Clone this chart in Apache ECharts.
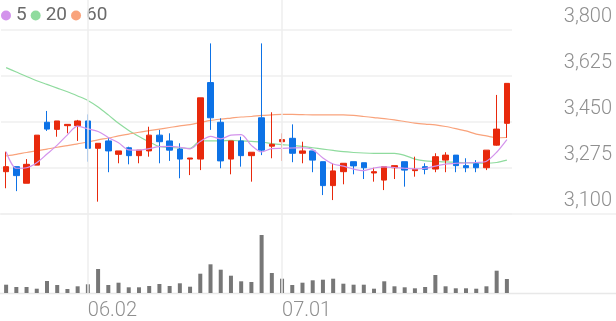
<!DOCTYPE html>
<html>
<head>
<meta charset="utf-8">
<script src="https://cdn.jsdelivr.net/npm/echarts@6/dist/echarts.min.js"></script>
<style>html,body{margin:0;padding:0;background:#fff}#c{width:616px;height:321px}</style>
</head>
<body>
<div id="c"></div>
<script>
const dates = ['05.21','05.22','05.23','05.26','05.27','05.28','05.29','05.30','06.02','06.04','06.05','06.09','06.10','06.11','06.12','06.13','06.16','06.17','06.18','06.19','06.20','06.23','06.24','06.25','06.26','06.27','06.30','07.01','07.02','07.03','07.04','07.07','07.08','07.09','07.10','07.11','07.14','07.15','07.16','07.17','07.18','07.21','07.22','07.23','07.24','07.25','07.28','07.29','07.30','07.31'];
const tickDates = ['06.02','07.01'];
const yTicks = [3100,3275,3450,3625,3800];
const openP = [3261,3280,3217,3286,3449,3422,3436,3436,3454,3350,3378,3327,3352,3322,3340,3400,3378,3347,3309,3309,3600,3449,3309,3378,3322,3466,3358,3375,3388,3331,3340,3299,3208,3261,3299,3295,3256,3229,3276,3299,3265,3280,3271,3305,3324,3284,3291,3276,3362,3445];
const closeP = [3280,3246,3289,3400,3423,3454,3441,3454,3350,3369,3340,3340,3322,3343,3400,3375,3343,3309,3313,3542,3466,3302,3378,3322,3335,3343,3365,3383,3331,3340,3305,3208,3264,3293,3283,3276,3261,3280,3284,3267,3270,3270,3318,3324,3284,3276,3276,3343,3423,3597];
const lowP = [3198,3187,3217,3286,3416,3394,3407,3378,3299,3147,3259,3293,3289,3293,3318,3293,3302,3236,3248,3267,3420,3274,3251,3280,3223,3324,3312,3302,3297,3293,3259,3172,3153,3213,3251,3233,3223,3191,3233,3204,3242,3251,3259,3259,3259,3259,3259,3267,3360,3390];
const highP = [3337,3280,3309,3400,3492,3454,3441,3458,3479,3369,3388,3340,3356,3343,3432,3420,3407,3369,3313,3542,3749,3464,3378,3394,3335,3749,3487,3407,3441,3375,3340,3299,3293,3293,3299,3295,3276,3280,3284,3299,3318,3293,3331,3335,3324,3312,3305,3343,3553,3597];
const volume = [83,60,60,43,120,80,40,67,87,240,80,103,57,57,70,90,70,97,63,193,287,233,173,117,110,580,200,143,80,103,127,133,143,93,83,83,43,117,67,57,47,60,180,67,47,47,43,67,223,140];
const ma5 = [3337,3274,3276,3295,3328,3362,3401,3434,3424,3414,3391,3371,3344,3343,3349,3356,3357,3354,3348,3376,3395,3386,3400,3402,3361,3336,3349,3350,3351,3352,3345,3313,3290,3282,3271,3265,3275,3279,3277,3274,3272,3274,3282,3290,3293,3294,3296,3301,3335,3383];
const ma20 = [3657,3640,3623,3607,3593,3579,3565,3549,3532,3507,3477,3445,3418,3395,3374,3357,3353,3351,3350,3378,3378,3378,3380,3378,3376,3374,3368,3364,3361,3357,3352,3347,3342,3337,3334,3332,3331,3331,3331,3323,3309,3302,3300,3298,3297,3295,3294,3293,3296,3305];
const ma60 = [3321,3327,3334,3340,3347,3354,3360,3367,3374,3382,3389,3397,3404,3411,3417,3423,3429,3435,3440,3448,3456,3461,3465,3469,3471,3475,3477,3479,3479,3478,3477,3477,3477,3477,3475,3471,3467,3463,3458,3452,3446,3442,3439,3433,3425,3416,3404,3397,3390,3391];

const UP = '#e8290c', DOWN = '#0d72e6';
const candles = dates.map((d, i) => [openP[i], closeP[i], lowP[i], highP[i]]);
const vline = {
  silent: true, symbol: ['none','none'], animation: false,
  label: {show: false},
  lineStyle: {color: '#eeeeee', width: 1.5, type: 'solid'},
  data: tickDates.map(d => ({xAxis: d}))
};
const chart = echarts.init(document.getElementById('c'), null, {renderer: 'canvas'});
chart.setOption({
  animation: false,
  textStyle: {fontFamily: 'Roboto'},
  legend: {
    left: 1, top: 6, padding: 0, icon: 'circle', itemWidth: 10, itemHeight: 10, itemGap: 4,
    textStyle: {fontSize: 19, color: '#6a6a6a', fontFamily: 'Roboto'},
    data: ['5','20','60']
  },
  grid: [
    {left: 1, width: 511, top: -16, height: 230, outerBoundsMode: 'none', containLabel: false},
    {left: 1, width: 511, top: 214, height: 79, outerBoundsMode: 'none', containLabel: false}
  ],
  xAxis: [
    {type: 'category', gridIndex: 0, data: dates, boundaryGap: true,
     axisLine: {show: false}, axisTick: {show: false}, axisLabel: {show: false}, splitLine: {show: false}},
    {type: 'category', gridIndex: 1, data: dates, boundaryGap: true,
     axisLine: {show: false}, axisTick: {show: false}, splitLine: {show: false},
     axisLabel: {show: true, interval: (i, v) => tickDates.includes(v), align: 'left', margin: 8,
       fontSize: 20, color: '#8f8f8f', fontFamily: 'Roboto', fontWeight: 300}}
  ],
  yAxis: [
    {type: 'value', gridIndex: 0, position: 'right', min: 3100, max: 3975, interval: 175,
     axisLine: {show: false}, axisTick: {show: false},
     splitLine: {show: true, lineStyle: {color: '#efefef', width: 1.5}},
     axisLabel: {show: true, align: 'right', margin: 100, verticalAlign: 'bottom', padding: [0,0,3,0],
       fontSize: 20, color: '#8f8f8f', fontFamily: 'Roboto', fontWeight: 300,
       formatter: v => yTicks.includes(v) ? v.toLocaleString('en-US') : ''}},
    {type: 'value', gridIndex: 1, min: 0, max: 790, show: false, splitLine: {show: false}}
  ],
  graphic: [
    {type: 'line', shape: {x1: 0, y1: 214, x2: 616, y2: 214}, style: {stroke: '#efefef', lineWidth: 1.5}, silent: true},
    {type: 'line', shape: {x1: 0, y1: 293.5, x2: 616, y2: 293.5}, style: {stroke: '#e8e8e8', lineWidth: 1.5}, silent: true}
  ],
  series: [
    {type: 'candlestick', xAxisIndex: 0, yAxisIndex: 0, data: candles, barWidth: 6,
     itemStyle: {color: UP, color0: DOWN, borderColor: UP, borderColor0: DOWN, borderWidth: 1},
     markLine: vline, z: 3},
    {name: '5', type: 'line', xAxisIndex: 0, yAxisIndex: 0, data: ma5, smooth: 0.3, showSymbol: false,
     lineStyle: {color: '#d393ec', width: 1.2}, itemStyle: {color: '#d393ec'}, z: 4},
    {name: '20', type: 'line', xAxisIndex: 0, yAxisIndex: 0, data: ma20, smooth: 0.3, showSymbol: false,
     lineStyle: {color: '#8fdb9e', width: 1.2}, itemStyle: {color: '#8fdb9e'}, z: 2},
    {name: '60', type: 'line', xAxisIndex: 0, yAxisIndex: 0, data: ma60, smooth: 0.3, showSymbol: false,
     lineStyle: {color: '#f9a37c', width: 1.2}, itemStyle: {color: '#f9a37c'}, z: 2},
    {type: 'bar', xAxisIndex: 1, yAxisIndex: 1, data: volume, barWidth: 4,
     itemStyle: {color: '#777777'}, markLine: vline}
  ]
});
</script>
</body>
</html>
